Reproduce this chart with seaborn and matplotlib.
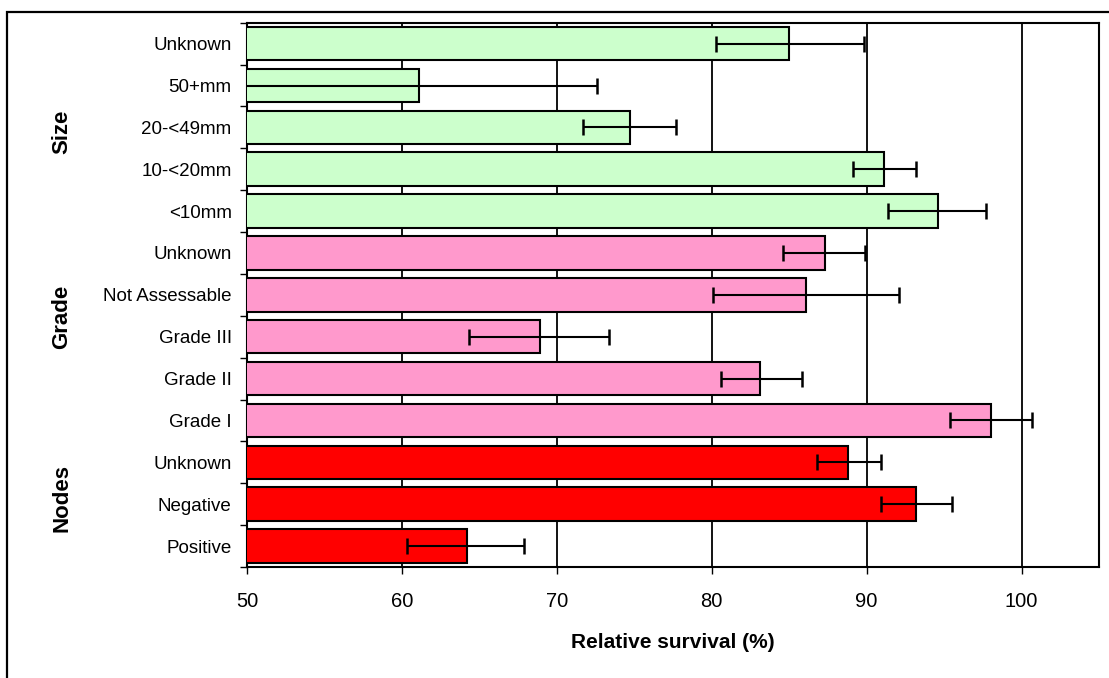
import matplotlib
matplotlib.use("Agg")
import matplotlib.pyplot as plt
import matplotlib.patches as mpatches
from matplotlib.ticker import FixedLocator
import seaborn as sns
import pandas as pd
import numpy as np

# ---- data (top to bottom) ----
keys = ["S_unk", "S_50", "S_20", "S_10", "S_lt10",
        "G_unk", "G_na", "G_3", "G_2", "G_1",
        "N_unk", "N_neg", "N_pos"]
labels = ["Unknown", "50+mm", "20-<49mm", "10-<20mm", "<10mm",
          "Unknown", "Not Assessable", "Grade III", "Grade II", "Grade I",
          "Unknown", "Negative", "Positive"]
groups = ["Size"] * 5 + ["Grade"] * 5 + ["Nodes"] * 3
survival = [85.0, 61.1, 74.7, 91.1, 94.6,
            87.3, 86.1, 68.9, 83.1, 98.0,
            88.8, 93.2, 64.2]
ci_low = [80.3, 49.7, 71.7, 89.1, 91.4,
          84.6, 80.1, 64.3, 80.6, 95.4,
          86.8, 90.9, 60.3]
ci_high = [89.8, 72.6, 77.7, 93.2, 97.7,
           89.9, 92.1, 73.4, 85.8, 100.7,
           90.9, 95.5, 67.9]
group_colors = {"Size": "#CCFFCC", "Grade": "#FF99CC", "Nodes": "#FF0000"}
group_names = ["Size", "Grade", "Nodes"]
xticks = [50, 60, 70, 80, 90, 100]

df = pd.DataFrame({"key": keys, "label": labels, "group": groups,
                   "survival": survival, "lo": ci_low, "hi": ci_high})

sns.set_style("white")
plt.rcParams["font.family"] = ["Liberation Sans", "DejaVu Sans"]
plt.rcParams["text.color"] = "black"
plt.rcParams["axes.labelcolor"] = "black"
plt.rcParams["xtick.color"] = "black"
plt.rcParams["ytick.color"] = "black"

fig = plt.figure(figsize=(11.09, 6.78), dpi=100)
ax = fig.add_axes([247 / 1109, 1 - 567 / 678, (1099 - 247) / 1109, (567 - 22.7) / 678])

sns.barplot(data=df, x="survival", y="key", hue="group", palette=group_colors,
            order=keys, hue_order=group_names, dodge=False, orient="h",
            width=0.8, saturation=1, edgecolor="black", linewidth=1.5,
            legend=False, ax=ax, zorder=3)

ypos = np.arange(len(keys))
ax.errorbar(df["survival"], ypos,
            xerr=[df["survival"] - df["lo"], df["hi"] - df["survival"]],
            fmt="none", ecolor="black", elinewidth=1.5, capsize=5.5,
            capthick=1.8, zorder=4)

ax.set_xlim(50, 105)
ax.set_ylim(len(keys) - 0.5, -0.5)
ax.set_xticks(xticks)
ax.set_xticklabels([str(t) for t in xticks], fontsize=14.5)
ax.set_yticks(ypos)
ax.set_yticklabels(labels, fontsize=13.5)
ax.yaxis.set_minor_locator(FixedLocator(np.arange(-0.5, len(keys), 1.0)))
ax.tick_params(axis="y", which="major", length=0, pad=11)
ax.tick_params(axis="y", which="minor", length=5, width=1, color="black", left=True)
ax.tick_params(axis="x", which="major", length=5, width=1, color="black",
               bottom=True, pad=13)

for v in [60, 70, 80, 90, 100]:
    ax.axvline(v, color="black", lw=1.3, zorder=1)

for s in ax.spines.values():
    s.set_color("black")
    s.set_linewidth(1.5)
    s.set_visible(True)

ax.set_ylabel("")
ax.set_xlabel("Relative survival (%)", fontsize=15, fontweight="bold", labelpad=16)

# group labels
centers = {"Size": 132, "Grade": 317, "Nodes": 498}
for g in group_names:
    fig.text(62 / 1109, 1 - centers[g] / 678, g, rotation=90, fontsize=16,
             fontweight="bold", ha="center", va="center")

# outer frame (extends beyond the right and bottom edges)
frame = mpatches.Rectangle((7 / 1109, -0.1), 1.2, 1 - 12 / 678 + 0.1,
                           transform=fig.transFigure, fill=False,
                           edgecolor="black", linewidth=1.6, clip_on=False)
fig.patches.append(frame)

fig.savefig("out.png", dpi=100)
